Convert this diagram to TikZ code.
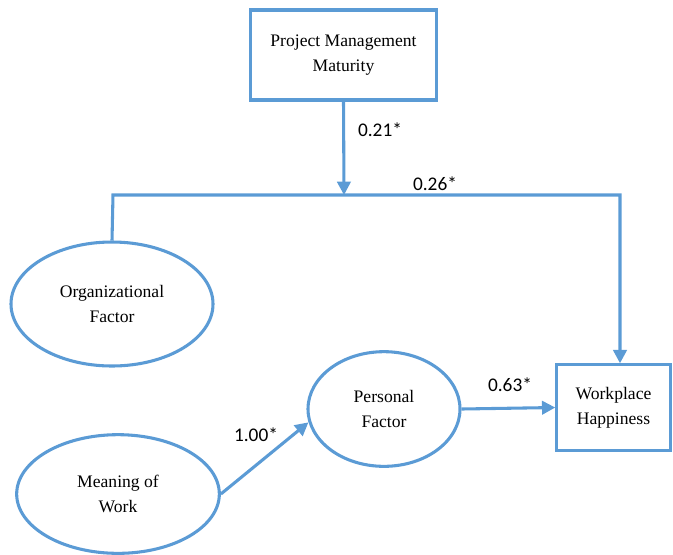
\documentclass[tikz,border=0pt]{standalone}
\usepackage{fontspec}
\setmainfont{Liberation Serif}
\newfontfamily\labelfont{Carlito}
\usetikzlibrary{arrows.meta,shapes.geometric}
\definecolor{pathblue}{RGB}{91,155,213}
\tikzset{
  link/.style={draw=pathblue, line width=2.3pt},
  arrowlink/.style={link, -{Triangle[length=10pt,width=10pt]}},
  construct/.style={ellipse, draw=pathblue, line width=2.3pt, fill=white,
    align=center, font=\fontsize{13.2pt}{19pt}\selectfont, inner sep=0pt},
  measure/.style={rectangle, draw=pathblue, line width=2.3pt, fill=white,
    align=center, font=\fontsize{13.2pt}{19pt}\selectfont, inner sep=0pt},
  coef/.style={font=\labelfont\fontsize{14.5pt}{16pt}\selectfont, inner sep=0pt}
}
\begin{document}
\begin{tikzpicture}[x=0.75pt, y=-0.75pt]
\useasboundingbox (0,0) rectangle (673,554);

% constructs and observed variables
\node[measure, minimum width=140pt, minimum height=67.5pt] (pmm) at (343.5,55) {Project Management\\Maturity};
\node[construct, minimum width=151.5pt, minimum height=93pt] (org) at (112,304) {Organizational\\Factor};
\node[construct, minimum width=152pt, minimum height=89pt] (mw) at (118,494) {Meaning of\\Work};
\node[construct, minimum width=114pt, minimum height=86pt] (pf) at (384,409) {Personal\\Factor};
\node[measure, minimum width=85pt, minimum height=64pt] (wh) at (613.5,407.5) {Workplace\\Happiness};

% moderated path: organizational factor to workplace happiness
\coordinate (orgup) at (113,195);
\coordinate (mod) at (344,195);
\coordinate (whup) at (620,195);
\draw[arrowlink] (org.north) -- (orgup) -- (whup) -- (wh.north -| whup);
\draw[arrowlink] (pmm.south) -- (mod);

% direct paths
\draw[arrowlink] (mw.east) -- (pf.190);
\draw[arrowlink] (pf.east) -- (wh.west);

% path coefficients
\node[coef] (c021) at (380,130) {0.21*};
\node[coef] (c026) at (435,184) {0.26*};
\node[coef] (c100) at (256,435) {1.00*};
\node[coef] (c063) at (510,385) {0.63*};
\end{tikzpicture}
\end{document}
